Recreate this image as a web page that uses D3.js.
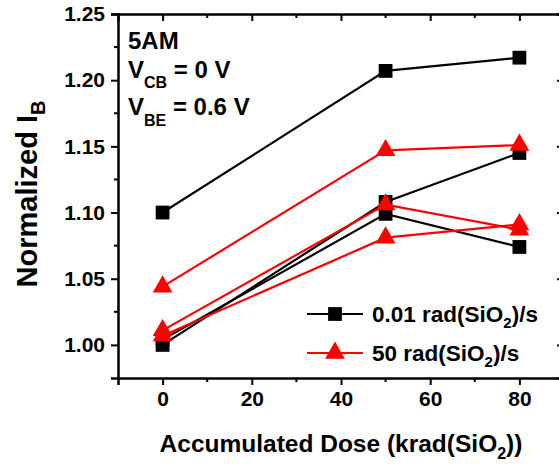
<!DOCTYPE html>
<html>
<head>
<meta charset="utf-8">
<script src="https://cdn.jsdelivr.net/npm/d3@7"></script>
<style>
  body { margin: 0; background: #fff; }
  text { font-family: "Liberation Sans", Arial, sans-serif; font-weight: bold; fill: #000; }
</style>
</head>
<body>
<div class="vizHolder"></div>
<script>
var width = 559, height = 467;

// data
var doses = [0, 50, 80];
var lowRate = [
    [1.100, 1.207, 1.217],
    [1.000, 1.108, 1.145],
    [1.004, 1.099, 1.074]
];
var highRate = [
    [1.044, 1.147, 1.151],
    [1.011, 1.106, 1.087],
    [1.007, 1.081, 1.091]
];
var xTicks = [0, 20, 40, 60, 80];
var yTicks = [1.00, 1.05, 1.10, 1.15, 1.20, 1.25];
var legendLabels = ["0.01 rad(SiO", "50 rad(SiO"];

var xScale = d3.scaleLinear().domain([-10, 90]).range([118, 564]);
var yScale = d3.scaleLinear().domain([0.975, 1.25]).range([378, 14]);

var svg = d3.select(".vizHolder")
            .append("svg")
            .attr("width", width)
            .attr("height", height);

// axes (Origin style: bottom/left out, top/right in)
var xMinor = d3.range(-10, 91, 10);
var yMinor = d3.range(0, 12).map(function(i){ return 0.975 + i * 0.025; });

var xAxis = d3.axisBottom(xScale).tickValues(xTicks).tickSize(7).tickPadding(6).tickFormat(d3.format("d"));
var yAxis = d3.axisLeft(yScale).tickValues(yTicks).tickSize(7).tickPadding(6).tickFormat(d3.format(".2f"));

function styleAxis(g) {
    g.select(".domain").attr("stroke-width", 2.5);
    g.selectAll(".tick line").attr("stroke-width", 2);
    g.selectAll(".tick text").style("font-size", "21px").style("font-weight", "bold");
}

svg.append("g")
   .attr("transform", "translate(0," + yScale(0.975) + ")")
   .call(xAxis).call(styleAxis);
svg.append("g")
   .attr("transform", "translate(" + xScale(-10) + ",0)")
   .call(yAxis).call(styleAxis);

// top and right axes, ticks inward, no labels
svg.append("g")
   .attr("transform", "translate(0," + yScale(1.25) + ")")
   .call(d3.axisBottom(xScale).tickValues(xTicks).tickSize(7).tickFormat(""))
   .call(styleAxis);
svg.append("g")
   .attr("transform", "translate(" + xScale(90) + ",0)")
   .call(d3.axisLeft(yScale).tickValues(yTicks).tickSize(7).tickFormat(""))
   .call(styleAxis);

// minor ticks
var minorX = xMinor.filter(function(d){ return xTicks.indexOf(d) < 0 && d > -10; });
var minorY = yMinor.filter(function(d){ return Math.abs(Math.round(d * 20) - d * 20) > 0.01 && d > 0.98; });

svg.selectAll(".mxb").data(minorX).enter().append("line")
   .attr("x1", xScale).attr("x2", xScale)
   .attr("y1", yScale(0.975)).attr("y2", yScale(0.975) + 4)
   .attr("stroke", "#000").attr("stroke-width", 2);
svg.selectAll(".mxt").data(minorX).enter().append("line")
   .attr("x1", xScale).attr("x2", xScale)
   .attr("y1", yScale(1.25)).attr("y2", yScale(1.25) + 4)
   .attr("stroke", "#000").attr("stroke-width", 2);
svg.selectAll(".myl").data(minorY).enter().append("line")
   .attr("x1", xScale(-10) - 4).attr("x2", xScale(-10))
   .attr("y1", yScale).attr("y2", yScale)
   .attr("stroke", "#000").attr("stroke-width", 2);
svg.selectAll(".myr").data(minorY).enter().append("line")
   .attr("x1", xScale(90) - 4).attr("x2", xScale(90))
   .attr("y1", yScale).attr("y2", yScale)
   .attr("stroke", "#000").attr("stroke-width", 2);

// axis titles
var xt = svg.append("text")
   .attr("x", 341)
   .attr("y", 452)
   .style("font-size", "24.5px")
   .attr("text-anchor", "middle");
xt.append("tspan").text("Accumulated Dose (krad(SiO");
xt.append("tspan").attr("dy", 7).style("font-size", "16px").text("2");
xt.append("tspan").attr("dy", -7).text("))");

var yt = svg.append("text")
   .attr("transform", "translate(37," + 194 + ") rotate(-90)")
   .style("font-size", "29px")
   .attr("text-anchor", "middle");
yt.append("tspan").text("Normalized I");
yt.append("tspan").attr("dy", 8).style("font-size", "20px").text("B");

// annotation
var ann = svg.append("g").style("font-size", "24px");
ann.append("text").attr("x", 128).attr("y", 49).text("5AM");
var a2 = ann.append("text").attr("x", 128).attr("y", 78);
a2.append("tspan").text("V");
a2.append("tspan").attr("dy", 10).style("font-size", "16px").text("CB");
a2.append("tspan").attr("dy", -10).text(" = 0 V");
var a3 = ann.append("text").attr("x", 128).attr("y", 115);
a3.append("tspan").text("V");
a3.append("tspan").attr("dy", 11).style("font-size", "16px").text("BE");
a3.append("tspan").attr("dy", -11).text(" = 0.6 V");

// lines + markers
var line = d3.line()
    .x(function(d, i){ return xScale(doses[i]); })
    .y(function(d){ return yScale(d); });

var sq = d3.symbol().type(d3.symbolSquare).size(190);
var tri = d3.symbol().type(d3.symbolTriangle).size(170);

function drawSeries(data, color, sym) {
    svg.selectAll(null).data(data).enter().append("path")
       .attr("d", line)
       .attr("fill", "none")
       .attr("stroke", color)
       .attr("stroke-width", 2.2);
    data.forEach(function(s) {
        svg.selectAll(null).data(s).enter().append("path")
           .attr("d", sym)
           .attr("transform", function(d, i){ return "translate(" + xScale(doses[i]) + "," + yScale(d) + ")"; })
           .attr("fill", color);
    });
}

drawSeries(lowRate, "#000", sq);
drawSeries(highRate, "#ff0000", tri);

// legend
var legend = svg.selectAll(".legend")
    .data(legendLabels)
    .enter().append("g")
    .attr("class", "legend")
    .attr("transform", function(d, i){ return "translate(0," + (314 + i * 39) + ")"; });

legend.append("line")
    .attr("x1", 307).attr("x2", 363)
    .attr("y1", 0).attr("y2", 0)
    .attr("stroke", function(d, i){ return i ? "#ff0000" : "#000"; })
    .attr("stroke-width", 2.2);
legend.append("path")
    .attr("d", function(d, i){ return i ? tri() : sq(); })
    .attr("transform", "translate(335,0)")
    .attr("fill", function(d, i){ return i ? "#ff0000" : "#000"; });

var lt = legend.append("text")
    .attr("x", 372)
    .attr("y", 8)
    .style("font-size", "22.5px");
lt.append("tspan").text(function(d){ return d; });
lt.append("tspan").attr("dy", 6).style("font-size", "15px").text("2");
lt.append("tspan").attr("dy", -6).text(")/s");
</script>
</body>
</html>
